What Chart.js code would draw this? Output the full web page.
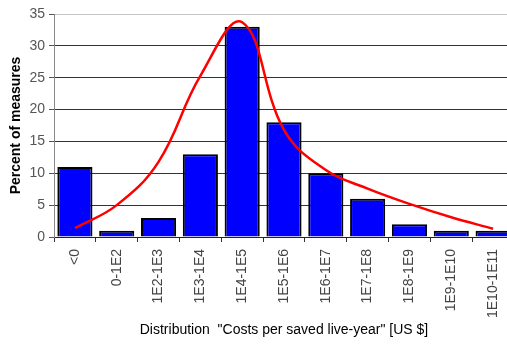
<!DOCTYPE html>
<html>
<head>
<meta charset="utf-8">
<script src="https://cdn.jsdelivr.net/npm/chart.js@4/dist/chart.umd.min.js"></script>
<style>
html,body{margin:0;padding:0;background:#fff;overflow:hidden;width:507px;height:347px;}
canvas{display:block;}
</style>
</head>
<body>
<canvas id="c" width="520" height="347"></canvas>
<script>
const categories = ['<0','0-1E2','1E2-1E3','1E3-1E4','1E4-1E5','1E5-1E6','1E6-1E7','1E7-1E8','1E8-1E9','1E9-1E10','1E10-1E11'];
const percentMeasures = [11, 1, 3, 13, 33, 18, 10, 6, 2, 1, 1];
const fittedCurve = [1.4, 5, 11.8, 25.3, 33.7, 16.8, 10.5, 7.6, 5.2, 3.1, 1.3];
const yTicks = [0, 5, 10, 15, 20, 25, 30, 35];

Chart.defaults.font.family = '"Liberation Sans", Arial, sans-serif';
Chart.defaults.font.size = 14;

new Chart(document.getElementById('c'), {
  data: {
    labels: categories,
    datasets: [
      {
        type: 'line',
        data: fittedCurve,
        borderColor: '#ff0000',
        borderWidth: 2.5,
        pointRadius: 0,
        tension: 0.4,
        fill: false,
        order: 0
      },
      {
        type: 'bar',
        data: percentMeasures,
        backgroundColor: '#0000ff',
        borderColor: '#000000',
        borderWidth: 2,
        barPercentage: 0.84,
        categoryPercentage: 1,
        order: 1
      }
    ]
  },
  options: {
    responsive: false,
    animation: false,
    layout: { padding: { top: 14, right: 6, left: 0, bottom: 0 } },
    plugins: { legend: { display: false }, tooltip: { enabled: false } },
    scales: {
      x: {
        offset: true,
        grid: { display: true, drawOnChartArea: false, drawTicks: true, tickLength: 5, offset: true, color: '#333' },
        border: { display: true, color: '#222', width: 1 },
        ticks: { color: '#444', minRotation: 90, maxRotation: 90, autoSkip: false, padding: 7, font: { size: 14 } },
        title: { display: true, text: 'Distribution  "Costs per saved live-year" [US $]', color: '#000', font: { size: 14 }, padding: { top: 4, bottom: 8 } },
        afterFit: (s) => { s.height = 110; }
      },
      y: {
        min: 0, max: 35,
        afterBuildTicks: (s) => { s.ticks = yTicks.map(v => ({ value: v })); },
        grid: {
          color: (ctx) => (ctx.tick && ctx.tick.value === 35) ? '#c4c4c4' : '#333',
          tickColor: '#555',
          tickLength: 5,
          lineWidth: 1
        },
        border: { display: true, color: '#888', width: 1 },
        ticks: { color: '#555', padding: 4, font: { size: 14 } },
        title: { display: true, text: 'Percent of measures', color: '#000', font: { size: 14, weight: 'bold' }, padding: { top: 8, bottom: 0 } },
        afterFit: (s) => { s.width = 54; }
      }
    }
  }
});
</script>
</body>
</html>
